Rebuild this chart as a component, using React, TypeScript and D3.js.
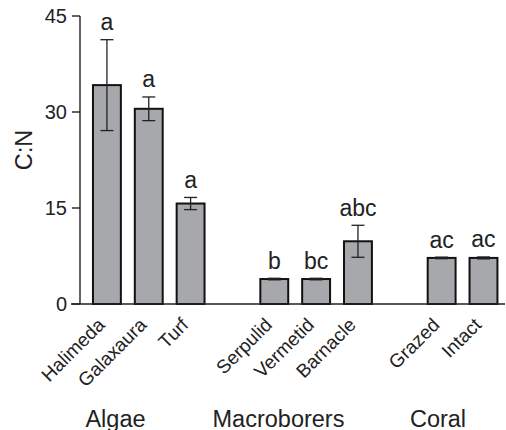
import React from "react";
import * as d3 from "d3";

const categories = ["Halimeda", "Galaxaura", "Turf", "", "Serpulid", "Vermetid", "Barnacle", " ", "Grazed", "Intact"];
const means = [34.2, 30.5, 15.7, null, 3.9, 3.9, 9.8, null, 7.2, 7.2];
const errors = [7.1, 1.85, 0.95, null, 0.12, 0.12, 2.5, null, 0.12, 0.15];
const letters = ["a", "a", "a", "", "b", "bc", "abc", "", "ac", "ac"];
const yTicks = [0, 15, 30, 45];
const groups = [
  { name: "Algae", x: 115.5 },
  { name: "Macroborers", x: 278.5 },
  { name: "Coral", x: 438 },
];

const W = 506;
const H = 430;
const FONT = "'Liberation Sans', Arial, Helvetica, sans-serif";

export default function App() {
  const x = d3.scaleBand<string>().domain(categories).range([86, 504.4]).paddingInner(1 / 3).paddingOuter(1 / 6);
  const y = d3.scaleLinear().domain([0, 45]).range([304, 16]);
  const axisX = 80;

  return (
    <svg width={W} height={H} style={{ position: "absolute", left: 0, top: 0, background: "#fff" }} fontFamily={FONT}>
      {/* bars */}
      {categories.map((c, i) => {
        const m = means[i];
        if (m === null) return null;
        const bx = x(c)!;
        const bw = x.bandwidth();
        return (
          <rect key={"b" + i} x={bx} y={y(m)} width={bw} height={y(0) - y(m)} fill="#a7a8ab" stroke="#111" strokeWidth={2} />
        );
      })}
      {/* error bars */}
      {categories.map((c, i) => {
        const m = means[i];
        const e = errors[i];
        if (m === null || e === null) return null;
        const cx = x(c)! + x.bandwidth() / 2;
        const capHalf = 6.5;
        return (
          <g key={"e" + i} stroke="#222" strokeWidth={1.3}>
            <line x1={cx} x2={cx} y1={y(m + e)} y2={y(m - e)} />
            <line x1={cx - capHalf} x2={cx + capHalf} y1={y(m + e)} y2={y(m + e)} />
            <line x1={cx - capHalf} x2={cx + capHalf} y1={y(m - e)} y2={y(m - e)} />
          </g>
        );
      })}
      {/* letters */}
      {categories.map((c, i) => {
        const m = means[i];
        const e = errors[i];
        if (m === null || e === null) return null;
        const cx = x(c)! + x.bandwidth() / 2;
        return (
          <text key={"l" + i} x={cx} y={y(m + e) - 9.5} textAnchor="middle" fontSize={23} fill="#222">
            {letters[i]}
          </text>
        );
      })}
      {/* axes */}
      <line x1={axisX} x2={axisX} y1={y(45)} y2={y(0)} stroke="#222" strokeWidth={1.4} />
      <line x1={71} x2={505} y1={y(0)} y2={y(0)} stroke="#222" strokeWidth={1.4} />
      {yTicks.map((t) => (
        <g key={"t" + t}>
          <line x1={72} x2={axisX} y1={y(t)} y2={y(t)} stroke="#222" strokeWidth={1.4} />
          <text x={67} y={y(t)} dy="0.36em" textAnchor="end" fontSize={20} fill="#222">
            {t}
          </text>
        </g>
      ))}
      <text transform="translate(32,150) rotate(-90)" textAnchor="middle" fontSize={23.5} fill="#222">
        C:N
      </text>
      {/* category labels */}
      {categories.map((c, i) => {
        if (means[i] === null) return null;
        const cx = x(c)! + x.bandwidth() / 2;
        return (
          <text key={"c" + i} transform={`translate(${cx - 1},${y(0) + 22}) rotate(-45)`} textAnchor="end" fontSize={19} fill="#222">
            {c}
          </text>
        );
      })}
      {groups.map((g) => (
        <text key={g.name} x={g.x} y={426.5} textAnchor="middle" fontSize={23.5} fill="#222">
          {g.name}
        </text>
      ))}
    </svg>
  );
}
